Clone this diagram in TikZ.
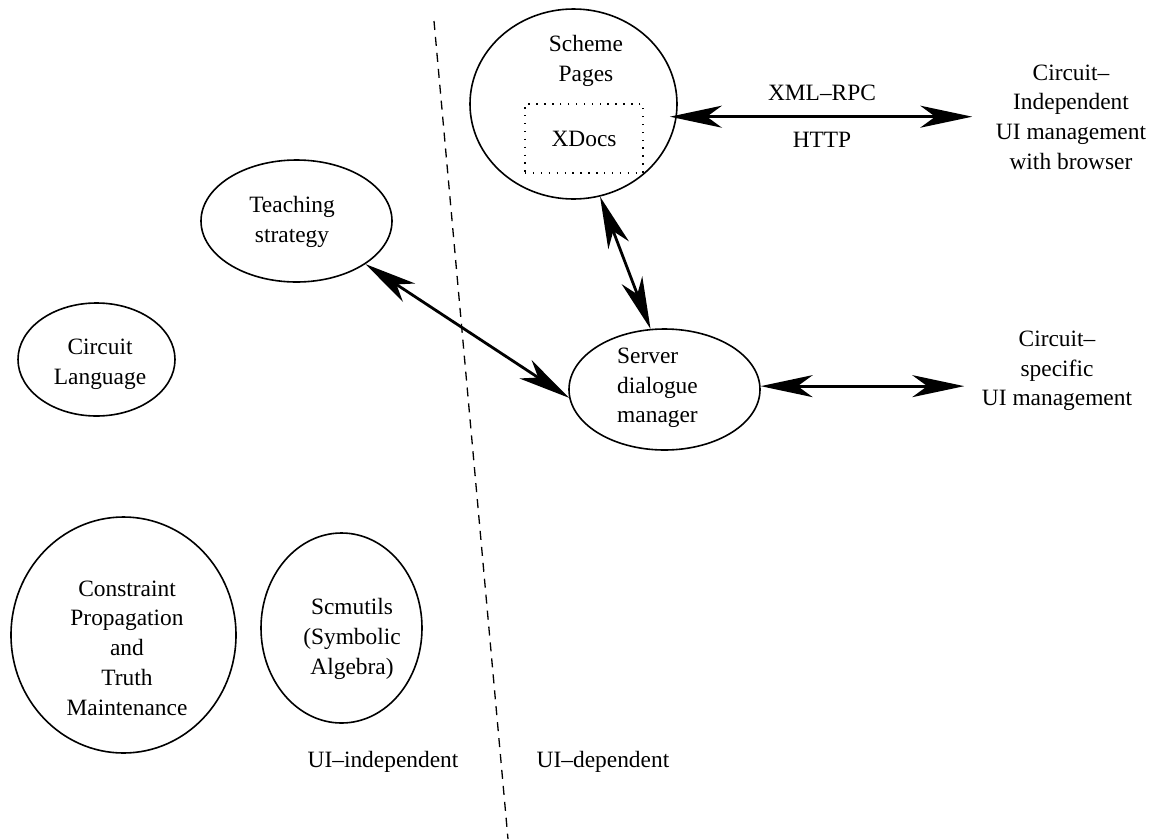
\documentclass[tikz,border=0pt]{standalone}
\usepackage{fontspec}
\setmainfont{Liberation Serif}
\usetikzlibrary{arrows.meta,shapes.geometric,calc}
\tikzset{
  oval/.style={ellipse, draw, line width=1.6pt, inner sep=0pt},
  txt/.style={font=\fontsize{23.4}{29.7}\selectfont, align=center, inner sep=0pt},
  dotbox/.style={draw, line width=1.4pt, dash pattern=on 1.4pt off 6.5pt},
  divider/.style={line width=1.3pt, dash pattern=on 9pt off 7pt},
  dbl/.style={line width=2.8pt, {Stealth[length=52pt,width=22pt,inset=15pt]}-{Stealth[length=52pt,width=22pt,inset=15pt]}},
}
\begin{document}
\begin{tikzpicture}[x=1pt,y=-1pt]
\useasboundingbox (0,0) rectangle (1149,839);
% divider
\coordinate (dtop) at (434,21);
\coordinate (dbot) at (508,839);
\draw[divider] (dtop) -- (dbot);
% ellipses
\node[oval, minimum width=207pt, minimum height=190pt] (scheme) at (573.5,104) {};
\node[txt] (schemetxt) at (586,61) {Scheme\\Pages};
\node[txt, dotbox, minimum width=118pt, minimum height=69pt] (xdocs) at (584,138.5) {XDocs};
\node[oval, minimum width=191pt, minimum height=122pt] (teach) at (296.5,221) {};
\node[txt] (teachtxt) at (292,222) {Teaching\\strategy};
\node[oval, minimum width=157pt, minimum height=113pt] (circ) at (96.5,359.5) {};
\node[txt] (circtxt) at (100,364) {Circuit\\Language};
\node[oval, minimum width=191pt, minimum height=121pt] (server) at (664.5,389.5) {};
\node[txt, align=left, anchor=west] (servertxt) at (617,388) {Server\\dialogue\\manager};
\node[oval, minimum width=225pt, minimum height=236pt] (cons) at (123.5,635) {};
\node[txt] (constxt) at (127,648) {Constraint\\Propagation\\and\\Truth\\Maintenance};
\node[oval, minimum width=161pt, minimum height=190pt] (scm) at (341.5,628) {};
\node[txt] (scmtxt) at (352,639) {Scmutils\\(Symbolic\\Algebra)};
% free texts
\node[txt] (cind) at (1071,117) {Circuit\textendash\\Independent\\UI management\\with browser};
\node[txt] (cspec) at (1057,371) {Circuit\textendash\\specific\\UI management};
\node[txt] (xml) at (822,93) {XML\textendash RPC};
\node[txt] (http) at (822,140) {HTTP};
\node[txt] (uiind) at (383,762) {UI\textendash independent};
\node[txt] (uidep) at (603,762) {UI\textendash dependent};
% connectors
\draw[dbl, shorten <=-7pt, shorten >=23.5pt] (scheme.-7) -- (scheme.-7 -| cind.west);
\draw[dbl, shorten >=17.5pt] (server.2) -- (server.2 -| cspec.west);
\draw[dbl] (teach.-32) -- (server.185);
\draw[dbl] (scheme.-74) -- (server.103);
\end{tikzpicture}
\end{document}
